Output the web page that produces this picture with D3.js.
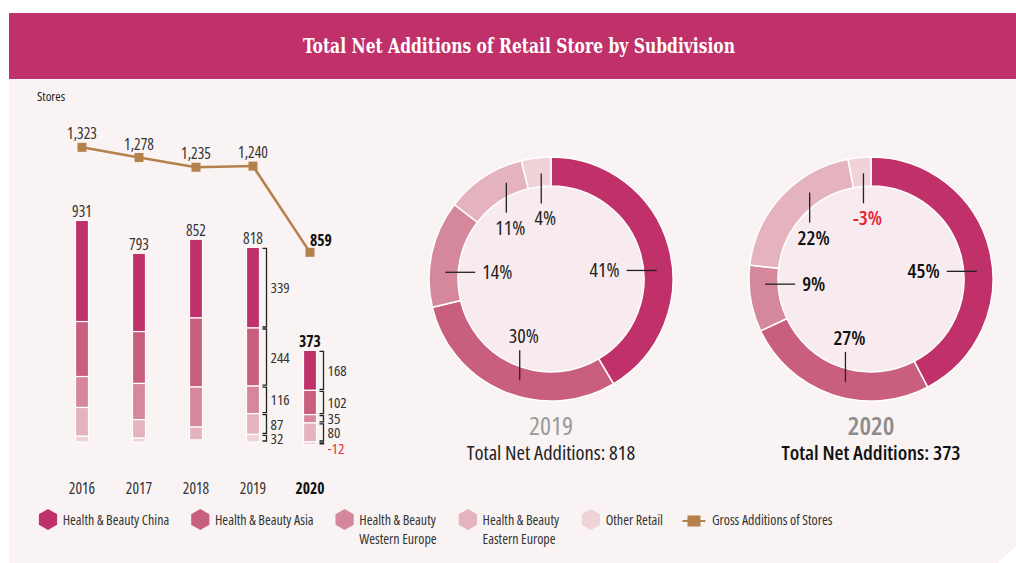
<!DOCTYPE html>
<html>
<head>
<meta charset="utf-8">
<script src="https://cdn.jsdelivr.net/npm/d3@7"></script>
<style>
  body { margin: 0; background: #fff; }
  svg text { font-family: "Open Sans", "Noto Sans", sans-serif; font-stretch: 75%; }
</style>
</head>
<body>
<svg id="chart" width="1016" height="563"></svg>
<script>
// data
var years = ["2016", "2017", "2018", "2019", "2020"];
var keys = ["china", "asia", "westEurope", "eastEurope", "other"];
var china      = [425, 329, 331, 339, 168];
var asia       = [231, 218, 290, 244, 102];
var westEurope = [130, 152, 168, 116, 35];
var eastEurope = [121, 78, 55, 87, 80];
var otherRetail = [24, 16, 8, 32, -12];
var netTotals = [931, 793, 852, 818, 373];
var grossAdditions = [1323, 1278, 1235, 1240, 859];
var pct2019 = [41, 30, 14, 11, 4];
var pct2020 = [45, 27, 9, 22, -3];
var legendLabels = ["Health & Beauty China", "Health & Beauty Asia", "Health & Beauty|Western Europe",
                    "Health & Beauty|Eastern Europe", "Other Retail", "Gross Additions of Stores"];
var colors = ["#c03069", "#c95f7f", "#d5889c", "#e4b3bf", "#f0d2d9"];
var lineColor = "#b5814a";

var svg = d3.select("#chart");

// panel + title band
svg.append("path")
    .attr("d", "M9,13H1016V546L998,563H9Z")
    .attr("fill", "#f9f3f3");
svg.append("rect")
    .attr("x", 9).attr("y", 13).attr("width", 1007).attr("height", 66)
    .attr("fill", "#c03069");
svg.append("text")
    .attr("x", 519).attr("y", 53)
    .attr("text-anchor", "middle")
    .attr("fill", "#fff")
    .style("font-family", "'DejaVu Serif', serif")
    .style("font-weight", "bold")
    .style("font-size", "20px")
    .attr("textLength", 432).attr("lengthAdjust", "spacingAndGlyphs")
    .text("Total Net Additions of Retail Store by Subdivision");

svg.append("text")
    .attr("x", 37).attr("y", 101)
    .style("font-size", "13px").attr("fill", "#222")
    .text("Stores");

// ---- stacked bars ----
var rows = years.map(function (y, i) {
    return { year: y, china: china[i], asia: asia[i], westEurope: westEurope[i],
             eastEurope: eastEurope[i], other: otherRetail[i] };
});
var series = d3.stack().keys(keys)
    .order(d3.stackOrderReverse)
    .offset(d3.stackOffsetDiverging)(rows);

var x = d3.scalePoint().domain(years).range([82, 310]);
var yBar = d3.scaleLinear().domain([0, 1000]).range([442, 204]);
var yLine = d3.scaleLinear().domain([0, 1400]).range([446.7, 129.9]);
var barW = 13;

var g = svg.append("g");
series.forEach(function (s, si) {
    g.selectAll(".seg" + si)
        .data(s)
        .enter().append("rect")
        .attr("x", function (d) { return x(d.data.year) - barW / 2; })
        .attr("y", function (d) { return yBar(Math.max(d[0], d[1])); })
        .attr("width", barW)
        .attr("height", function (d) { return Math.abs(yBar(d[0]) - yBar(d[1])); })
        .attr("fill", colors[si])
        .attr("stroke", "#fff")
        .attr("stroke-width", 1.2);
});

// totals above bars
g.selectAll(".tot")
    .data(years)
    .enter().append("text")
    .attr("x", function (d) { return x(d); })
    .attr("y", function (d, i) { return yBar(d3.max(series, function (s) { return s[i][1]; })) - 3; })
    .attr("text-anchor", "middle")
    .style("font-size", "15.5px")
    .style("font-weight", function (d) { return d === "2020" ? "bold" : "normal"; })
    .attr("fill", function (d) { return d === "2020" ? "#111" : "#333"; })
    .text(function (d, i) { return netTotals[i]; });

// brackets + segment values for 2019, 2020
["2019", "2020"].forEach(function (yr) {
    var i = years.indexOf(yr);
    var bx = x(yr) + barW / 2 + 7;
    series.forEach(function (s) {
        var d = s[i];
        var yt = yBar(Math.max(d[0], d[1])), yb = yBar(Math.min(d[0], d[1]));
        var val = d.data[s.key];
        g.append("path")
            .attr("d", "M" + (bx - 4) + "," + (yt + 1) + "H" + bx + "V" + (yb - 1) + "H" + (bx - 4))
            .attr("fill", "none").attr("stroke", "#222").attr("stroke-width", 1.3);
        g.append("text")
            .attr("x", bx + 4)
            .attr("y", (yt + yb) / 2 + 5.5 + (val < 0 ? 5 : 0))
            .style("font-size", "15px")
            .attr("fill", val < 0 ? "#e8303a" : "#333")
            .text(val);
    });
});

// year labels
g.selectAll(".yr")
    .data(years)
    .enter().append("text")
    .attr("x", function (d) { return x(d); })
    .attr("y", 494)
    .attr("text-anchor", "middle")
    .style("font-size", "15.5px")
    .style("font-weight", function (d) { return d === "2020" ? "bold" : "normal"; })
    .attr("fill", function (d) { return d === "2020" ? "#111" : "#333"; })
    .text(function (d) { return d; });

// gross additions line
var line = d3.line()
    .x(function (d, i) { return x(years[i]); })
    .y(function (d) { return yLine(d); });
g.append("path")
    .datum(grossAdditions)
    .attr("d", line)
    .attr("fill", "none")
    .attr("stroke", lineColor)
    .attr("stroke-width", 2.5);
g.selectAll(".mk")
    .data(grossAdditions)
    .enter().append("rect")
    .attr("x", function (d, i) { return x(years[i]) - 4.5; })
    .attr("y", function (d) { return yLine(d) - 4.5; })
    .attr("width", 9).attr("height", 9)
    .attr("fill", lineColor);
g.selectAll(".gl")
    .data(grossAdditions)
    .enter().append("text")
    .attr("x", function (d, i) { return x(years[i]); })
    .attr("y", function (d, i) { return yLine(d) - (i === 4 ? 6 : 8); })
    .attr("text-anchor", function (d, i) { return i === 4 ? "start" : "middle"; })
    .style("font-size", "15.5px")
    .style("font-weight", function (d, i) { return i === 4 ? "bold" : "normal"; })
    .attr("fill", function (d, i) { return i === 4 ? "#111" : "#333"; })
    .text(function (d) { return d3.format(",")(d); });

// ---- donuts ----
var pie = d3.pie().sort(null).value(function (d) { return Math.abs(d); });
var arc = d3.arc().innerRadius(93).outerRadius(122);

function donut(cx, cy, yr, pcts, bold) {
    var i = years.indexOf(yr);
    var vals = keys.map(function (k) { return rows[i][k]; });
    var dg = svg.append("g").attr("transform", "translate(" + cx + "," + cy + ")");
    dg.append("circle").attr("r", 93).attr("fill", "#f8ebf0");
    var arcs = pie(vals);
    dg.selectAll(".sl")
        .data(arcs)
        .enter().append("path")
        .attr("d", arc)
        .attr("fill", function (d, j) { return colors[j]; })
        .attr("stroke", "#fff")
        .attr("stroke-width", 1.5);

    arcs.forEach(function (d, j) {
        var a = (d.startAngle + d.endAngle) / 2;
        var horiz = Math.abs(Math.sin(a)) > 0.85;
        // pull leader toward the nearest axis direction
        var step = Math.PI / 2;
        var base = horiz ? (Math.sin(a) > 0 ? step : 3 * step) : Math.round(a / (2 * step)) * 2 * step;
        a = base + (a - base) * (horiz ? 0.3 : 0.75);
        var sn = Math.sin(a), cs = Math.cos(a);
        var p0 = [sn * 106, -cs * 106], p1, lx, ly, anchor;
        if (horiz) {
            p1 = [p0[0] - Math.sign(sn) * 30, p0[1]];
            lx = p1[0] - Math.sign(sn) * 7;
            ly = p1[1] + 7;
            anchor = sn > 0 ? "end" : "start";
        } else {
            p1 = [p0[0], p0[1] + Math.sign(cs) * 30];
            lx = p0[0] + 4;
            ly = cs > 0 ? p1[1] + 22 : p1[1] - 7;
            anchor = "middle";
        }
        dg.append("line")
            .attr("x1", p0[0]).attr("y1", p0[1])
            .attr("x2", p1[0]).attr("y2", p1[1])
            .attr("stroke", "#222").attr("stroke-width", 1.3);
        dg.append("text")
            .attr("x", lx).attr("y", ly)
            .attr("text-anchor", anchor)
            .style("font-size", "20px")
            .style("font-weight", bold ? "600" : "normal")
            .attr("fill", pcts[j] < 0 ? "#e8202e" : (bold ? "#111" : "#222"))
            .text(pcts[j] + "%");
    });

    dg.append("text")
        .attr("y", 156).attr("text-anchor", "middle")
        .style("font-size", "26px")
        .style("font-weight", bold ? "600" : "normal")
        .attr("fill", bold ? "#8c8c8c" : "#9a9a9a")
        .text(yr);
    dg.append("text")
        .attr("y", 181).attr("text-anchor", "middle")
        .style("font-size", "20.5px")
        .style("font-weight", bold ? "600" : "normal")
        .attr("fill", bold ? "#111" : "#222")
        .text("Total Net Additions: " + netTotals[i]);
}
donut(551, 279, "2019", pct2019, false);
donut(871, 279, "2020", pct2020, true);

// ---- legend ----
var hexPts = d3.range(6).map(function (k) {
    var a = k * Math.PI / 3;
    return [10.5 * Math.sin(a), -10.5 * Math.cos(a)];
});
var hexPath = d3.line()(hexPts) + "Z";
var lg = svg.append("g");
var cx = 48, ly0 = 520;
legendLabels.forEach(function (lab, j) {
    var item = lg.append("g");
    var tx;
    if (j < 5) {
        item.append("path")
            .attr("d", hexPath)
            .attr("transform", "translate(" + cx + "," + (ly0 - 0.5) + ")")
            .attr("fill", colors[j]);
        tx = cx + 14.7;
    } else {
        item.append("line")
            .attr("x1", cx - 11.5).attr("x2", cx + 11.5)
            .attr("y1", ly0 + 1).attr("y2", ly0 + 1)
            .attr("stroke", lineColor).attr("stroke-width", 2);
        item.append("rect")
            .attr("x", cx - 6.5).attr("y", ly0 - 4.5)
            .attr("width", 13).attr("height", 11)
            .attr("fill", lineColor);
        tx = cx + 18;
    }
    var t = item.append("text")
        .attr("x", tx).attr("y", ly0 + 5)
        .style("font-size", "14px")
        .attr("fill", "#333");
    lab.split("|").forEach(function (part, k) {
        t.append("tspan").attr("x", tx).attr("dy", k === 0 ? 0 : 19).text(part);
    });
    cx = tx + t.node().getBBox().width + 31;
});
</script>
</body>
</html>
